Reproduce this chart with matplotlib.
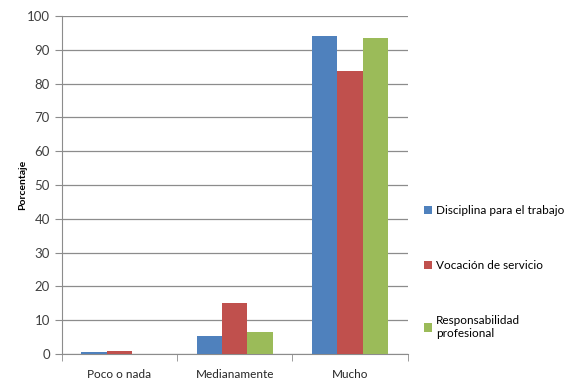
import numpy as np
import matplotlib.pyplot as plt

categories = ["Poco o nada", "Medianamente", "Mucho"]
series_names = ["Disciplina para el trabajo", "Vocación de servicio",
                "Responsabilidad\nprofesional"]
disciplina = [0.6, 5.2, 94.0]
vocacion = [1.0, 15.0, 83.6]
responsabilidad = [0.0, 6.5, 93.4]
colors = ["#4f81bd", "#c0504d", "#9bbb59"]

plt.rcParams['font.family'] = ['Lato', 'DejaVu Sans']

fig = plt.figure(figsize=(5.72, 3.83), dpi=100)
ax = fig.add_axes([0.108, 0.076, 0.605, 0.882])

x = np.arange(len(categories))
w = 0.22
for i, (vals, name) in enumerate(zip([disciplina, vocacion, responsabilidad], series_names)):
    ax.bar(x + (i - 1) * w, vals, width=w, color=colors[i], label=name, zorder=3)

ax.set_xlim(-0.5, 2.5)
ax.set_ylim(0, 100)
ax.set_yticks(range(0, 101, 10))
ax.grid(axis='y', color='#8c8c8c', linewidth=0.9, zorder=0)

for side in ['top', 'right']:
    ax.spines[side].set_visible(False)
for side in ['left', 'bottom']:
    ax.spines[side].set_color('#8c8c8c')

ax.set_xticks(x)
ax.set_xticklabels(categories, fontsize=8.5, color='#262626')
ax.set_xticks([-0.5, 0.5, 1.5, 2.5], minor=True)
ax.tick_params(axis='x', which='major', length=0, pad=11)
ax.tick_params(axis='x', which='minor', length=5, color='#8c8c8c', direction='out')
ax.tick_params(axis='y', length=5, color='#8c8c8c', labelsize=9.5, labelcolor='#404040')

ax.set_ylabel("Porcentaje", fontsize=7.5, fontweight='bold')
ax.yaxis.set_label_coords(-0.10, 0.5)

fig.legend(loc='upper left', bbox_to_anchor=(0.722, 0.493), frameon=False,
           fontsize=8.5, handlelength=0.7, handleheight=0.7, handletextpad=0.35,
           labelspacing=3.75)

fig.savefig("out.png", dpi=100)
